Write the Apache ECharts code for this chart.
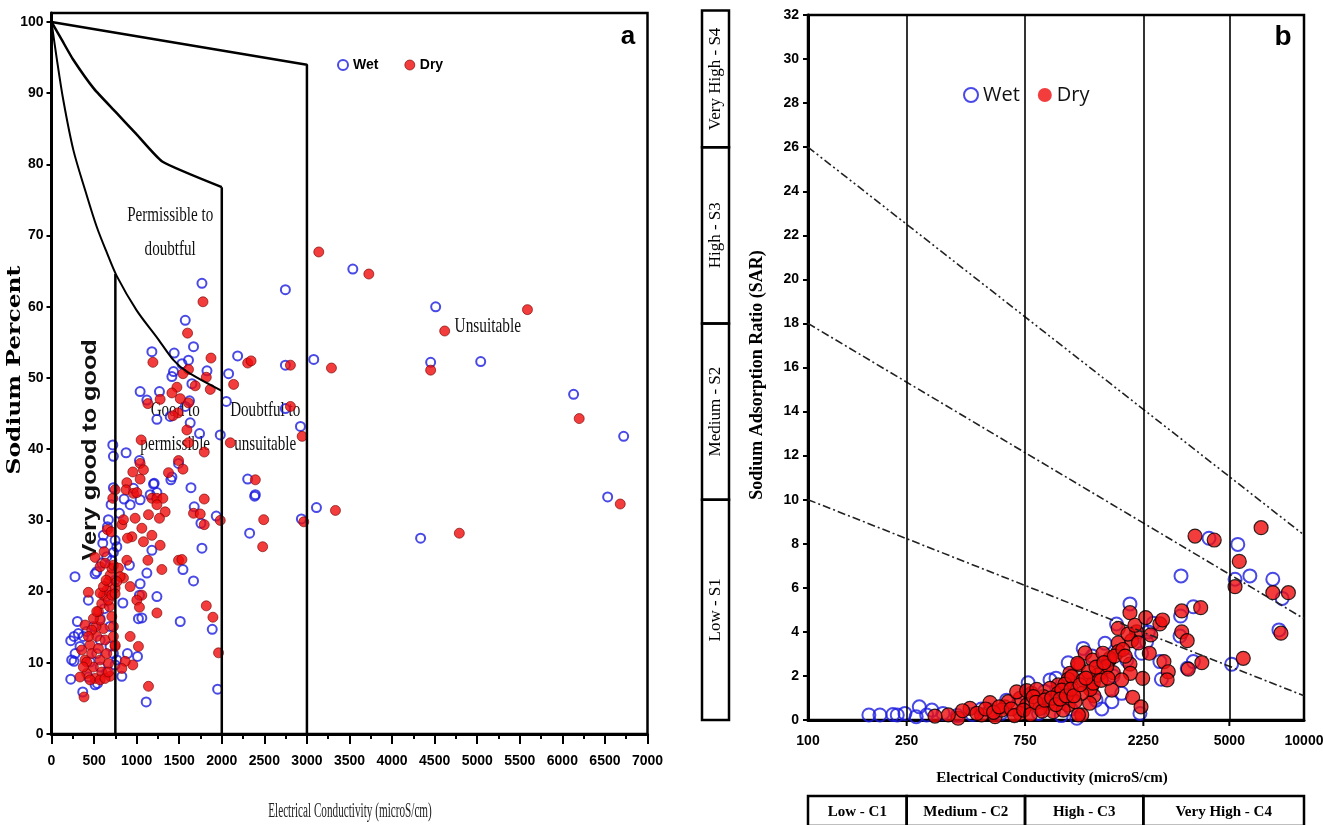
<!DOCTYPE html>
<html><head><meta charset="utf-8">
<script src="https://cdn.jsdelivr.net/npm/echarts@6/dist/echarts.min.js"></script>
<style>html,body{margin:0;padding:0;background:#fff}#c{width:1323px;height:825px}</style>
</head><body><div id="c"></div>
<script>
// ---------- Panel a (Wilcox) data: [EC microS/cm, Na %] ----------
const aWet = [[1767,63.3],[1571,58.1],[1668,54.4],[1179,53.7],[1441,53.5],[1609,52.5],[1532,52],[1433,50.9],[1414,50.2],[1826,51],[1649,49.2],[2080,50.6],[2186,53.1],[2747,62.4],[2747,51.8],[3080,52.6],[1041,48.1],[1268,48.1],[1120,46.9],[1621,46.8],[2053,46.7],[1571,46],[2747,45.7],[1238,44.2],[1394,44.6],[1629,43.7],[2924,43.2],[1739,42.2],[1982,42],[720,40.6],[727,39],[876,39.5],[1033,38.4],[1492,38],[1414,36.1],[2304,35.8],[1206,35.2],[1638,34.6],[2394,33.6],[727,34.6],
[276,22.1],[226,13.1],[265,13.7],[315,14.1],[304,15.8],[226,7.7],[265,10.2],[367,5.9],[539,7.1],[433,18.8],[512,22.5],[602,26.8],[609,27.9],[668,30.1],[657,29.1],[700,32.2],[727,25.5],[708,24.4],[798,31],[853,33],[924,32.2],[962,34.5],[1041,32.9],[1159,33.6],[1198,35.1],[1238,33.9],[915,23.7],[838,18.4],[1041,21.1],[1033,19.5],[1021,16.2],[1061,16.3],[1010,10.9],[892,11.3],[826,8.1],[747,9.7],[1112,4.5],[1179,25.8],[1120,22.6],[1238,19.3],[1544,23.1],[1512,15.8],[1676,31.9],[1755,29.6],[1767,26.1],[1668,21.5],[1888,14.7],[1951,6.3],[1935,30.6],[2327,28.2],[2386,33.4],[2935,30.2],[3112,31.8],[1402,35.7],
[237,10.4],[277,11.3],[335,12.3],[374,13.7],[414,14.4],[492,15.1],[571,16.2],[618,17.6],[641,19.3],[688,20.7],[747,21.6],[531,11.3],[571,9.4],[649,8.7],[433,8.0],[512,6.9],[453,10.1],[688,12.3],[727,11.3],[767,10.4],[688,15.1],[571,13.2],[767,26.3],[747,27.2],[649,24.9],[590,24.0],[531,22.8],
[4512,60],[4453,52.2],[5041,52.3],[6132,47.7],[6720,41.8],[6532,33.3],[4335,27.5],[3539,65.3]];

const aDry = [[1779,60.7],[1598,56.3],[1191,52.2],[1873,52.8],[2304,52.1],[2344,52.4],[2806,51.8],[3288,51.4],[1609,51.2],[1544,50.6],[1818,50.1],[1688,48.9],[2139,49.1],[1865,48.4],[1473,48.7],[1414,47.9],[1512,47.1],[1276,47],[1609,46.5],[1132,46.4],[2806,46],[1485,45.1],[1426,44.7],[1590,42.7],[1053,41.3],[2944,41.8],[2100,40.9],[1609,40.9],[1794,39.6],[1041,38],[1492,38.4],[1544,37.2],[1080,37.1],[1374,36.7],[955,36.8],[1041,35.8],[2394,35.7],[885,35.3],[747,34.3],
[394,15.3],[382,5.2],[433,19.9],[512,24.8],[618,25.6],[657,28.7],[700,28.4],[720,33.1],[826,29.4],[845,30.1],[876,34.3],[962,33.8],[1002,33.9],[982,30.3],[944,27.7],[892,27.5],[1061,28.9],[1080,27],[1179,27.9],[1139,30.8],[1179,33.1],[1238,33.1],[1308,33.1],[1238,32.2],[1335,31.2],[1268,30.3],[1276,26.5],[1132,24.4],[1296,23.1],[885,24.4],[845,21.9],[924,20.7],[1061,19.5],[1002,18.8],[1033,17.8],[1238,17],[924,13.7],[1021,12.3],[955,9.7],[865,10.2],[826,9.2],[1139,6.7],[1492,24.4],[1532,24.5],[1668,31],[1747,30.9],[1794,33],[1794,29.4],[1982,30],[1818,18],[1896,16.4],[1962,11.4],[2492,30.1],[2480,26.3],[2963,29.8],[3335,31.4],
[355,11.8],[394,10.4],[414,8.5],[453,12.5],[472,11.3],[492,9.4],[512,7.8],[531,13.7],[551,12.0],[571,10.4],[590,8.7],[610,14.8],[629,13.2],[649,11.3],[669,9.9],[688,8.1],[523,15.1],[571,16.0],[551,17.2],[590,18.3],[610,19.5],[649,20.2],[669,21.4],[688,22.3],[708,23.3],[727,23.7],[571,19.8],[610,20.7],[641,21.6],[680,17.9],[708,16.5],[727,15.1],[747,12.3],[571,23.5],[629,24.0],[669,18.8],[708,19.5],[747,20.5],[786,23.3],[806,22.1],[767,21.4],[747,19.7],[472,14.6],[433,13.7],[492,16.2],[531,17.2],[414,10.1],[374,9.4],[335,8.0],[453,7.6],[571,7.6],[629,7.8],[669,8.7],[747,12.5],[727,13.7],
[3139,67.7],[3727,64.6],[5590,59.6],[4618,56.6],[4453,51.1],[6198,44.3],[6680,32.3],[4790,28.2]];

// Wilcox class boundaries
const aBoundTop = [[0,100],[3000,94],[3000,0]];
const aBoundMid = [[0,100],[125,97.4],[250,94.8],[500,90.6],[750,87.4],[1000,84.2],[1300,80.4],[2000,76.8]];
const aBoundLow = [[0,100],[60,95],[139,89],[257,82],[400,76.2],[532,71.2],[650,67.6],[767,64.3],[1000,59.5],[1250,55.5],[1433,52.5],[1590,50.9],[2000,48.2]];
const aBoundV750 = [[750,0],[750,64.6]];
const aBoundV2000 = [[2000,0],[2000,76.8]];

const aNoteText = ['Permissible to\ndoubtful','Good to\npermissible','Doubtful to\nunsuitable','Unsuitable','Very good to good'];
const aNoteX = [1394, 1453, 2510, 5124, 453];
const aNoteY = [70.5, 43.0, 43.0, 57.2, 39.9];

const aYTicks = [0,10,20,30,40,50,60,70,80,90,100];

// ---------- Panel b (USSL) data: [EC microS/cm, SAR] ----------
const bWet = [[4140,8.25],[5408,7.97],[3192,6.54],[6050,6.54],[7485,6.39],[5272,6.39],[8166,5.52],[7925,4.09],[5107,2.53],[3580,5.14],[3180,4.72],[3163,3.81],[3580,2.65],[3381,2.35],[1987,5.27],[1754,4.36],[2466,4.39],[2356,4.0],[2318,3.55],[2215,3.03],[2624,2.65],[2660,1.85],[1680,0.83],[2180,0.3],[1840,1.21],[1577,3.48],[1287,3.25],[1600,2.5],[1929,2.72],[229,0.23],[246,0.3],[281,0.6],[273,0.15],[316,0.45],[301,0.23],[772,1.69],[946,1.82],[1120,2.6],[1213,0.08],[632,0.9],[542,0.45],[176,0.23],[195,0.23],[220,0.25],[350,0.3],[400,0.2],[460,0.25],[500,0.5],[600,0.3],[700,0.7],[850,0.3],[900,1.3],[1000,1.9],[1050,0.2],[1150,0.5],[1400,2.9],[1450,0.9],[1530,0.5],[1700,2.0]];

const bDry = [[3635,8.35],[4345,8.17],[6714,8.73],[5483,7.2],[5272,6.05],[7485,5.78],[8650,5.78],[8075,3.94],[5690,2.8],[3873,2.6],[3415,2.31],[3213,4.95],[3832,5.1],[3213,4.0],[3381,3.6],[2624,4.36],[2690,4.54],[2724,2.65],[2836,2.19],[2806,1.82],[1987,4.87],[1782,4.16],[2114,4.0],[2018,3.6],[2410,3.86],[2378,3.03],[2237,1.89],[2038,1.03],[2202,0.6],[1987,2.54],[1994,2.12],[1680,1.36],[1782,3.5],[1782,3.1],[1641,2.72],[1310,3.05],[1406,2.72],[1504,2.12],[1702,2.15],[1840,1.82],[1390,1.51],[1422,1.09],[1366,0.76],[1270,0.23],
[1231,2.5],[1649,2.8],[1546,3.03],[1600,2.42],[1137,2.12],[1120,1.85],[1375,1.4],[1137,1.28],[1270,1.21],[1020,1.59],[946,1.44],[1020,1.21],[889,1.06],[798,1.21],[716,0.98],[762,0.68],[931,0.76],[1120,0.68],[1231,0.23],[622,0.6],[642,0.83],[542,0.79],[568,0.15],[501,0.23],[450,0.53],[403,0.08],[368,0.23],[325,0.18],[420,0.42],[694,1.28],[762,1.33],[836,1.39],[1087,1.63],[1157,1.97],[1287,1.82],[1222,2.57],[1413,1.67],[1476,2.04],[1352,2.19],[1055,1.36],[810,1.06],[604,0.45],[716,0.3],[861,0.53],[975,0.38],[1069,0.45],[1194,0.83],
[480,0.3],[520,0.5],[560,0.35],[590,0.6],[660,0.5],[680,0.2],[740,0.45],[790,0.25],[830,0.8],[880,0.4],[900,0.9],[960,1.0],[1000,0.7],[1040,0.95],[1100,1.1],[1150,1.4],[1180,1.1],[1250,1.6],[1320,1.9],[1450,2.4],[1520,1.8],[1560,2.6],[1620,1.9],[1720,2.9],[1860,3.2],[1900,2.9],[1950,3.9],[2080,4.3],[2150,3.5],[2300,4.65]];

const bHazard1 = [[100,26],[10000,8.4]];
const bHazard2 = [[100,18],[10000,4.6]];
const bHazard3 = [[100,10],[10000,1.1]];
const bClassLines = [250,750,2250,5000];
const bXTicks = [100,250,750,2250,5000,10000];
const sLo = [0,10,18,26];
const sHi = [10,18,26,32.2];
const sNames = ['Low - S1','Medium - S2','High - S3','Very High - S4'];
const cLo = [100,250,750,2250];
const cHi = [250,750,2250,10000];
const cNames = ['Low - C1','Medium - C2','High - C3','Very High - C4'];

// ---------- chart ----------
const BLUE = '#1c1ce0', RED = '#f00c0c';
const chart = echarts.init(document.getElementById('c'));
const noteStyle = [
  {font:'21px "Liberation Serif"', sx:0.72, rot:0, lh:34},
  {font:'21px "Liberation Serif"', sx:0.72, rot:0, lh:34},
  {font:'21px "Liberation Serif"', sx:0.72, rot:0, lh:34},
  {font:'21px "Liberation Serif"', sx:0.73, rot:0, lh:24},
  {font:'bold 21px "Liberation Sans"', sx:1.2, rot:Math.PI/2, lh:24}
];
function txt(x,y,text,font,opt){
  opt = opt||{};
  return {type:'text', x:x, y:y, rotation:opt.rot||0, scaleX:opt.sx||1, scaleY:opt.sy||1, silent:true,
    style:{text:text, font:font, fill:opt.fill||'#000', align:'center', verticalAlign:'middle',
      textAlign:'center', textVerticalAlign:'middle', lineHeight:opt.lh}};
}
const axisLbl = {color:'#000', fontWeight:'bold', formatter:function(v){return String(v);}};
const lineA = {color:'#000', width:2.5};
const option = {
  animation:false,
  backgroundColor:'#fff',
  grid:[
    {left:51.5, top:13, width:596, height:721, show:true, borderColor:'#000', borderWidth:2.5, containLabel:false, outerBoundsMode:'none'},
    {left:808, top:15, width:496, height:705, show:true, borderColor:'#000', borderWidth:2.5, containLabel:false, outerBoundsMode:'none'},
    {left:702, top:10.6, width:27, height:709.4, show:false, containLabel:false, outerBoundsMode:'none'},
    {left:808, top:796, width:496, height:30, show:false, containLabel:false, outerBoundsMode:'none'}
  ],
  xAxis:[
    {gridIndex:0, type:'value', min:0, max:7000, interval:500,
     axisLine:{lineStyle:{color:'#000', width:3}},
     axisTick:{length:10, lineStyle:{color:'#000', width:2}},
     minorTick:{show:true, splitNumber:2, length:5, lineStyle:{color:'#000', width:2}},
     splitLine:{show:false},
     axisLabel:Object.assign({fontFamily:'"Liberation Sans Narrow","Liberation Sans"', fontSize:14, margin:20, showMaxLabel:true}, axisLbl)},
    {gridIndex:1, type:'log', logBase:10, min:100, max:10000,
     axisLine:{lineStyle:{color:'#000', width:3}}, axisTick:{show:false}, axisLabel:{show:false}, splitLine:{show:false}, minorTick:{show:false}},
    {gridIndex:2, type:'value', min:0, max:1, show:false},
    {gridIndex:3, type:'log', logBase:10, min:100, max:10000, show:false}
  ],
  yAxis:[
    {gridIndex:0, type:'value', min:0, max:101.26,
     axisLine:{lineStyle:{color:'#000', width:3}},
     axisTick:{length:5, lineStyle:{color:'#000', width:2}, customValues:aYTicks},
     splitLine:{show:false},
     axisLabel:Object.assign({fontFamily:'"Liberation Sans Narrow","Liberation Sans"', fontSize:14, margin:8, customValues:aYTicks}, axisLbl)},
    {gridIndex:1, type:'value', min:0, max:32, interval:2,
     axisLine:{lineStyle:{color:'#000', width:3}},
     axisTick:{length:5, lineStyle:{color:'#000', width:2}},
     splitLine:{show:false},
     axisLabel:Object.assign({fontFamily:'"Liberation Sans"', fontSize:14, margin:9}, axisLbl)},
    {gridIndex:2, type:'value', min:0, max:32.2, show:false},
    {gridIndex:3, type:'value', min:0, max:1, show:false}
  ],
  legend:[
    {left:332, top:53, itemWidth:10, itemHeight:10, itemGap:26, selectedMode:false,
     textStyle:{fontFamily:'"Liberation Sans"', fontWeight:'bold', fontSize:14, color:'#000'},
     data:[{name:'Wet', icon:'circle', itemStyle:{color:'rgba(255,255,255,0)', borderColor:BLUE, borderWidth:2}},
           {name:'Dry', icon:'circle', itemStyle:{color:RED, borderColor:'#700', borderWidth:0.8}}]},
    {left:958, top:80, itemWidth:14, itemHeight:14, itemGap:18, selectedMode:false,
     textStyle:{fontFamily:'"Open Sans","Noto Sans"', fontSize:20, color:'#111'},
     data:[{name:'Wet', icon:'circle', itemStyle:{color:'rgba(255,255,255,0)', borderColor:BLUE, borderWidth:2}},
           {name:'Dry', icon:'circle', itemStyle:{color:RED, borderColor:RED, borderWidth:0}}]}
  ],
  series:[
    // panel a boundaries
    {type:'line', xAxisIndex:0, yAxisIndex:0, data:aBoundTop, symbol:'none', lineStyle:lineA, silent:true},
    {type:'line', xAxisIndex:0, yAxisIndex:0, data:aBoundMid, symbol:'none', smooth:0.15, lineStyle:lineA, silent:true},
    {type:'line', xAxisIndex:0, yAxisIndex:0, data:aBoundLow, symbol:'none', smooth:0.3, lineStyle:{color:'#000', width:2}, silent:true},
    {type:'line', xAxisIndex:0, yAxisIndex:0, data:aBoundV750, symbol:'none', lineStyle:lineA, silent:true},
    {type:'line', xAxisIndex:0, yAxisIndex:0, data:aBoundV2000, symbol:'none', lineStyle:lineA, silent:true},
    // panel a annotations
    {type:'custom', xAxisIndex:0, yAxisIndex:0, silent:true,
     data:aNoteX.map((x,i)=>[x, aNoteY[i], i]),
     renderItem:function(params, api){
       const i = params.dataIndex, s = noteStyle[i];
       const p = api.coord([api.value(0), api.value(1)]);
       return txt(p[0], p[1], aNoteText[i], s.font, {sx:s.sx, rot:s.rot, lh:s.lh, fill:'#111'});
     }},
    {name:'Wet', type:'scatter', xAxisIndex:0, yAxisIndex:0, data:aWet, symbol:'circle', symbolSize:9,
     itemStyle:{color:'rgba(255,255,255,0)', borderColor:BLUE, borderWidth:2}},
    {name:'Dry', type:'scatter', xAxisIndex:0, yAxisIndex:0, data:aDry, symbol:'circle', symbolSize:10,
     itemStyle:{color:RED, borderColor:'#700', borderWidth:0.8}},
    // panel b hazard lines and class lines
    {type:'line', xAxisIndex:1, yAxisIndex:1, data:bHazard1, symbol:'none', lineStyle:{color:'#222', width:1.6, type:[8,3,2,3,2,3]}, silent:true,
     markLine:{silent:true, symbol:'none', label:{show:false}, lineStyle:{color:'#000', type:'solid', width:1.6},
       data:bClassLines.map(v=>({xAxis:v}))}},
    {type:'line', xAxisIndex:1, yAxisIndex:1, data:bHazard2, symbol:'none', lineStyle:{color:'#222', width:1.6, type:[8,3,2,3]}, silent:true},
    {type:'line', xAxisIndex:1, yAxisIndex:1, data:bHazard3, symbol:'none', lineStyle:{color:'#222', width:1.6, type:[8,3,2,3]}, silent:true},
    // panel b x ticks and labels on the log axis
    {type:'custom', xAxisIndex:1, yAxisIndex:1, silent:true,
     data:bXTicks.map(v=>[v,0]),
     renderItem:function(params, api){
       const p = api.coord([api.value(0), 0]);
       const v = api.value(0);
       const ch = [txt(p[0], p[1]+21, String(v), 'bold 14px "Liberation Sans"')];
       if (v > 100 && v < 10000) ch.push({type:'line', shape:{x1:p[0], y1:p[1], x2:p[0], y2:p[1]+6}, style:{stroke:'#000', lineWidth:2}});
       return {type:'group', children:ch};
     }},
    {name:'Wet', type:'scatter', xAxisIndex:1, yAxisIndex:1, data:bWet, symbol:'circle', symbolSize:13,
     itemStyle:{color:'rgba(255,255,255,0)', borderColor:BLUE, borderWidth:2}},
    {name:'Dry', type:'scatter', xAxisIndex:1, yAxisIndex:1, data:bDry, symbol:'circle', symbolSize:14,
     itemStyle:{color:RED, borderColor:'#000', borderWidth:1.2}},
    // sodium hazard classes box
    {type:'custom', xAxisIndex:2, yAxisIndex:2, silent:true,
     data:sLo.map((v,i)=>[v, sHi[i], i]),
     renderItem:function(params, api){
       const i = params.dataIndex;
       const p1 = api.coord([0, api.value(0)]), p2 = api.coord([1, api.value(1)]);
       return {type:'group', children:[
         {type:'rect', shape:{x:p1[0], y:p2[1], width:p2[0]-p1[0], height:p1[1]-p2[1]}, style:{fill:'none', stroke:'#000', lineWidth:2.5}},
         txt((p1[0]+p2[0])/2, (p1[1]+p2[1])/2, sNames[i], '17px "Liberation Serif"', {rot:Math.PI/2})
       ]};
     }},
    // salinity hazard classes box
    {type:'custom', xAxisIndex:3, yAxisIndex:3, silent:true,
     data:cLo.map((v,i)=>[v, cHi[i], i]),
     renderItem:function(params, api){
       const i = params.dataIndex;
       const p1 = api.coord([api.value(0), 0]), p2 = api.coord([api.value(1), 1]);
       return {type:'group', children:[
         {type:'rect', shape:{x:p1[0], y:p2[1], width:p2[0]-p1[0], height:p1[1]-p2[1]}, style:{fill:'none', stroke:'#000', lineWidth:2.5}},
         txt((p1[0]+p2[0])/2, p2[1]+16, cNames[i], 'bold 15px "Liberation Serif"')
       ]};
     }}
  ],
  graphic:[
    txt(15, 370, 'Sodium Percent', 'bold 18px "DejaVu Serif"', {rot:Math.PI/2, sx:1.3}),
    txt(350, 812, 'Electrical Conductivity (microS/cm)', '20px "Liberation Serif"', {sx:0.56, fill:'#222'}),
    txt(757, 375, 'Sodium Adsorption Ratio (SAR)', 'bold 18px "Liberation Serif"', {rot:Math.PI/2}),
    txt(1052, 778, 'Electrical Conductivity (microS/cm)', 'bold 15px "Liberation Serif"'),
    txt(628, 37, 'a', 'bold 26px "Liberation Sans"'),
    txt(1283, 37, 'b', 'bold 28px "Liberation Sans"')
  ]
};
chart.setOption(option);
</script></body></html>
